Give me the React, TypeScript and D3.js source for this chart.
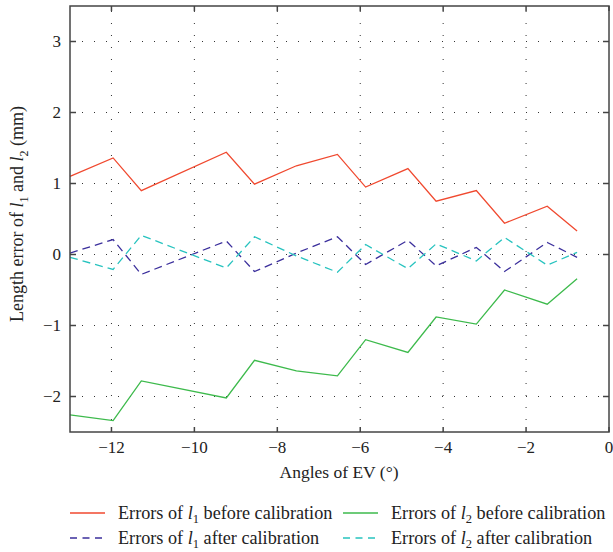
import React from 'react'
import * as d3 from 'd3'

const WIDTH = 613
const HEIGHT = 552
const FONT = '"Liberation Serif", "DejaVu Serif", serif'

// angles of EV (deg) and the four error series (mm)
const angles = [-13, -11.96, -11.28, -9.23, -8.55, -7.54, -6.55, -5.87, -4.85, -4.17, -3.2, -2.52, -1.49, -0.77]
const l1Before = [1.10, 1.36, 0.90, 1.44, 0.99, 1.25, 1.41, 0.95, 1.21, 0.75, 0.90, 0.44, 0.68, 0.33]
const l2Before = [-2.26, -2.34, -1.78, -2.02, -1.49, -1.64, -1.71, -1.20, -1.38, -0.88, -0.98, -0.50, -0.70, -0.34]
const l1After = [0.02, 0.21, -0.28, 0.19, -0.24, 0.02, 0.25, -0.14, 0.20, -0.16, 0.10, -0.24, 0.17, -0.04]
const l2After = [-0.04, -0.21, 0.27, -0.19, 0.25, -0.02, -0.25, 0.14, -0.20, 0.15, -0.09, 0.24, -0.15, 0.03]

const xTicks = [-12, -10, -8, -6, -4, -2, 0]
const yTicks = [-2, -1, 0, 1, 2, 3]

const series = [
  { name: 'l1b', sub: '1', when: 'before', values: l1Before, color: '#f0492f', dash: null },
  { name: 'l2b', sub: '2', when: 'before', values: l2Before, color: '#3dba4c', dash: null },
  { name: 'l1a', sub: '1', when: 'after', values: l1After, color: '#3b2f9c', dash: '8,5' },
  { name: 'l2a', sub: '2', when: 'after', values: l2After, color: '#27c3bf', dash: '8,5' },
]

const margin = { left: 70, right: 609, top: 6, bottom: 432 }

const fmt = (v: number) => (v < 0 ? '\u2212' + Math.abs(v) : String(v))

function Sub({ s, size, shift }: { s: string; size: number; shift: number }) {
  return (
    <>
      <tspan fontStyle="italic">l</tspan>
      <tspan fontSize={size} dy={shift}>{s}</tspan>
    </>
  )
}

export default function App() {
  const x = d3.scaleLinear().domain([-13, 0]).range([margin.left, margin.right])
  const y = d3.scaleLinear().domain([-2.5, 3.5]).range([margin.bottom, margin.top])

  const line = (vals: number[]) =>
    d3.line<number>()
      .x((_, i) => x(angles[i]))
      .y((d) => y(d))(vals) as string

  // legend layout: two columns, two rows
  const legendPos = [
    { lx: 70, ty: 513 },
    { lx: 343, ty: 513 },
    { lx: 70, ty: 538 },
    { lx: 343, ty: 538 },
  ]

  return (
    <svg width={WIDTH} height={HEIGHT} style={{ position: 'absolute', left: 0, top: 0 }}
      fontFamily={FONT} fontSize={17} fill="#222">
      <rect width={WIDTH} height={HEIGHT} fill="#fff" />

      {/* dotted grid */}
      <g stroke="#333" strokeWidth={1} strokeDasharray="1,11">
        {xTicks.filter((t) => t < 0).map((t) => (
          <line key={'gx' + t} x1={x(t)} x2={x(t)} y1={margin.bottom} y2={margin.top} />
        ))}
        {yTicks.map((t) => (
          <line key={'gy' + t} x1={margin.left} x2={margin.right} y1={y(t)} y2={y(t)} />
        ))}
      </g>

      {/* series */}
      <g fill="none" strokeWidth={1.3}>
        {series.map((s) => (
          <path key={s.name} d={line(s.values)} stroke={s.color}
            strokeDasharray={s.dash || undefined} />
        ))}
      </g>

      {/* frame + inward ticks */}
      <g stroke="#444" strokeWidth={1.5}>
        <rect x={margin.left} y={margin.top} width={margin.right - margin.left}
          height={margin.bottom - margin.top} fill="none" />
        {xTicks.map((t) => (
          <g key={'tx' + t}>
            <line x1={x(t)} x2={x(t)} y1={margin.bottom} y2={margin.bottom - 5} />
            <line x1={x(t)} x2={x(t)} y1={margin.top} y2={margin.top + 5} />
          </g>
        ))}
        {yTicks.map((t) => (
          <g key={'ty' + t}>
            <line x1={margin.left} x2={margin.left + 6} y1={y(t)} y2={y(t)} />
            <line x1={margin.right} x2={margin.right - 6} y1={y(t)} y2={y(t)} />
          </g>
        ))}
      </g>

      {/* tick labels */}
      {xTicks.map((t) => (
        <text key={'lx' + t} x={x(t)} y={453} textAnchor="middle">{fmt(t)}</text>
      ))}
      {yTicks.map((t) => (
        <text key={'ly' + t} x={61} y={y(t) + 5.5} textAnchor="end">{fmt(t)}</text>
      ))}

      {/* axis titles */}
      <text x={339} y={478} textAnchor="middle" fontSize={17.5}>Angles of EV (°)</text>
      <text transform="translate(23,214) rotate(-90)" textAnchor="middle" fontSize={18}>
        {'Length error of '}
        <Sub s="1" size={12} shift={5} />
        <tspan dy={-5}>{' and '}</tspan>
        <Sub s="2" size={12} shift={5} />
        <tspan dy={-5}>{' (mm)'}</tspan>
      </text>

      {/* legend */}
      {series.map((s, i) => {
        const p = legendPos[i]
        return (
          <g key={'leg' + s.name}>
            <line x1={p.lx} x2={p.lx + 35} y1={p.ty} y2={p.ty} stroke={s.color}
              strokeWidth={1.3} strokeDasharray={s.dash ? '7,5.5' : undefined} />
            <text x={p.lx + 48} y={p.ty + 6} fontSize={18.2}>
              {'Errors of '}
              <Sub s={s.sub} size={12.5} shift={4} />
              <tspan dy={-4}>{` ${s.when} calibration`}</tspan>
            </text>
          </g>
        )
      })}
    </svg>
  )
}
